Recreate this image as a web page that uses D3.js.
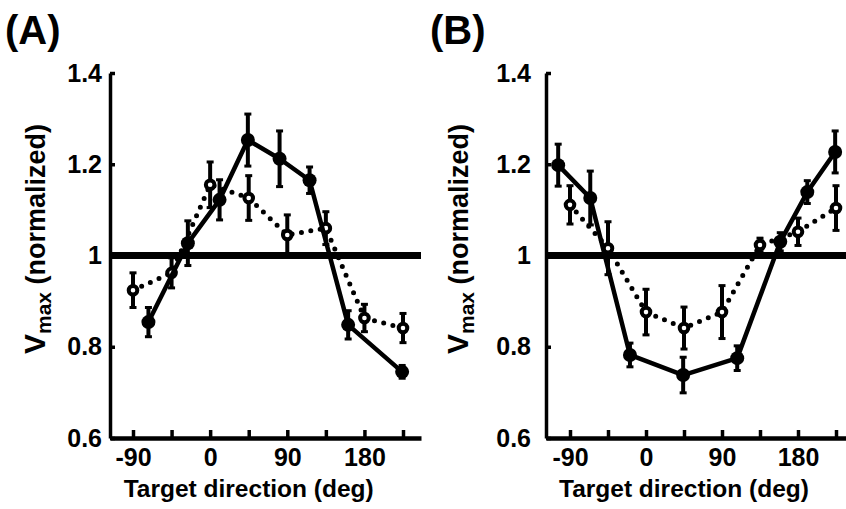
<!DOCTYPE html>
<html>
<head>
<meta charset="utf-8">
<script src="https://cdn.jsdelivr.net/npm/d3@7"></script>
<style>
  html, body { margin: 0; padding: 0; background: #fff; }
  svg { display: block; }
  text { font-family: "Liberation Sans", Arial, Helvetica, sans-serif; font-weight: bold; fill: #000; }
</style>
</head>
<body>
<svg id="chart" width="846" height="509"></svg>
<script>
// Tick values shared by both panels
const dirTickMarks = [-90, -45, 0, 45, 90, 135, 180, 225];
const dirTickLabels = [-90, 0, 90, 180];
const vTicks = [0.6, 0.8, 1, 1.2, 1.4];

// Panel A — solid (filled circles) series
const aSolidDir = [-72, -26, 11, 44, 81, 116, 161, 224];
const aSolidV   = [0.854, 1.027, 1.122, 1.253, 1.212, 1.165, 0.848, 0.745];
const aSolidErr = [0.032, 0.049, 0.044, 0.057, 0.061, 0.029, 0.031, 0.014];
// Panel A — dotted (open circles) series
const aOpenDir = [-90, -45, 0, 45, 90, 135, 180, 225];
const aOpenV   = [0.924, 0.962, 1.155, 1.126, 1.045, 1.060, 0.863, 0.841];
const aOpenErr = [0.038, 0.033, 0.050, 0.049, 0.044, 0.036, 0.030, 0.032];

// Panel B — solid (filled circles) series
const bSolidDir = [-104, -66, -19, 44, 108, 159, 191, 224];
const bSolidV   = [1.198, 1.126, 0.782, 0.738, 0.775, 1.030, 1.139, 1.227];
const bSolidErr = [0.046, 0.059, 0.026, 0.039, 0.027, 0.020, 0.025, 0.046];
// Panel B — dotted (open circles) series
const bOpenDir = [-90, -45, 0, 45, 90, 135, 180, 225];
const bOpenV   = [1.111, 1.016, 0.876, 0.841, 0.876, 1.023, 1.052, 1.104];
const bOpenErr = [0.042, 0.058, 0.050, 0.046, 0.058, 0.015, 0.030, 0.049];

const svg = d3.select("#chart");

const panels = [
  { label: "(A)", labelX: 5, axisX: 110, rightX: 421, x90: 133, x225: 403, yLabelPad: 8, titleX: 45,
    solid: { dir: aSolidDir, v: aSolidV, err: aSolidErr },
    open:  { dir: aOpenDir,  v: aOpenV,  err: aOpenErr } },
  { label: "(B)", labelX: 430, axisX: 546, rightX: 846, x90: 570, x225: 836, yLabelPad: 15, titleX: 468,
    solid: { dir: bSolidDir, v: bSolidV, err: bSolidErr },
    open:  { dir: bOpenDir,  v: bOpenV,  err: bOpenErr } }
];

const yTop = 73, yBottom = 438;
const fontStack = "'Liberation Sans', Arial, sans-serif";

panels.forEach(p => {
  const g = svg.append("g");

  // direction scale: fixed by the -90 and 225 tick positions, extended to the axis ends
  const base = d3.scaleLinear().domain([-90, 225]).range([p.x90, p.x225]);
  const x = d3.scaleLinear().domain([base.invert(p.axisX), base.invert(p.rightX)]).range([p.axisX, p.rightX]);
  const y = d3.scaleLinear().domain([0.6, 1.4]).range([yBottom, yTop]);

  // panel letter
  g.append("text").attr("x", p.labelX).attr("y", 44)
    .style("font-size", "40px").text(p.label);

  // bottom axis: inward tick marks every 45 deg
  const xMarks = g.append("g").attr("transform", `translate(0,${yBottom})`)
    .call(d3.axisBottom(x).tickValues(dirTickMarks).tickSize(-8).tickSizeOuter(0).tickFormat(""));
  xMarks.select(".domain").attr("stroke", "#000").attr("stroke-width", 4.5);
  xMarks.selectAll(".tick line").attr("stroke", "#000").attr("stroke-width", 3.5);

  // bottom axis labels (plain hyphen for the minus sign)
  const xLabels = g.append("g").attr("transform", `translate(0,${yBottom})`)
    .call(d3.axisBottom(x).tickValues(dirTickLabels).tickSize(0).tickPadding(10).tickFormat(d => String(d)));
  xLabels.select(".domain").remove();
  xLabels.selectAll("text").attr("dy", "0.71em").style("font-size", "25px")
    .style("font-family", fontStack).style("font-weight", "bold");

  // left axis
  const yAxis = g.append("g").attr("transform", `translate(${p.axisX},0)`)
    .call(d3.axisLeft(y).tickValues(vTicks).tickSize(-5).tickSizeOuter(0).tickPadding(p.yLabelPad)
      .tickFormat(d => d === 1 ? "1" : d3.format(".1f")(d)));
  yAxis.select(".domain").attr("stroke", "#000").attr("stroke-width", 3.5);
  yAxis.selectAll(".tick line").attr("stroke", "#000").attr("stroke-width", 3.5);
  yAxis.selectAll("text").style("font-size", "25px")
    .style("font-family", fontStack).style("font-weight", "bold");

  // axis titles
  g.append("text")
    .attr("x", (x(-90) + x(180)) / 2).attr("y", 497)
    .attr("text-anchor", "middle").style("font-size", "24.5px")
    .text("Target direction (deg)");

  const yt = g.append("text")
    .attr("transform", `translate(${p.titleX},239) rotate(-90)`)
    .attr("text-anchor", "middle").style("font-size", "27px");
  yt.append("tspan").style("font-size", "30px").text("V");
  yt.append("tspan").attr("dy", 6).style("font-size", "21px").text("max");
  yt.append("tspan").attr("dy", -6).text(" (normalized)");

  // reference line at 1
  g.append("line")
    .attr("x1", p.axisX).attr("x2", p.rightX)
    .attr("y1", y(1)).attr("y2", y(1))
    .attr("stroke", "#000").attr("stroke-width", 7);

  const line = d3.line().x(d => x(d.dir)).y(d => y(d.v));
  const rows = s => s.dir.map((d, i) => ({ dir: d, v: s.v[i], err: s.err[i] }));

  function errorBars(sel, data) {
    const eb = sel.append("g").selectAll("g").data(data).join("g");
    eb.append("line")
      .attr("x1", d => x(d.dir)).attr("x2", d => x(d.dir))
      .attr("y1", d => y(d.v - d.err)).attr("y2", d => y(d.v + d.err))
      .attr("stroke", "#000").attr("stroke-width", 4);
    [-1, 1].forEach(sgn => {
      eb.append("line")
        .attr("x1", d => x(d.dir) - 3.5).attr("x2", d => x(d.dir) + 3.5)
        .attr("y1", d => y(d.v + sgn * d.err)).attr("y2", d => y(d.v + sgn * d.err))
        .attr("stroke", "#000").attr("stroke-width", 3);
    });
  }

  // dotted series with open markers
  const openData = rows(p.open);
  g.append("path").datum(openData).attr("d", line)
    .attr("fill", "none").attr("stroke", "#000").attr("stroke-width", 5)
    .attr("stroke-linecap", "round").attr("stroke-dasharray", "0 9.5");
  errorBars(g, openData);
  g.append("g").selectAll("circle").data(openData).join("circle")
    .attr("cx", d => x(d.dir)).attr("cy", d => y(d.v)).attr("r", 4.3)
    .attr("fill", "#fff").attr("stroke", "#000").attr("stroke-width", 4);

  // solid series with filled markers
  const solidData = rows(p.solid);
  g.append("path").datum(solidData).attr("d", line)
    .attr("fill", "none").attr("stroke", "#000").attr("stroke-width", 4.5)
    .attr("stroke-linejoin", "round");
  errorBars(g, solidData);
  g.append("g").selectAll("circle").data(solidData).join("circle")
    .attr("cx", d => x(d.dir)).attr("cy", d => y(d.v)).attr("r", 7)
    .attr("fill", "#000");
});
</script>
</body>
</html>
